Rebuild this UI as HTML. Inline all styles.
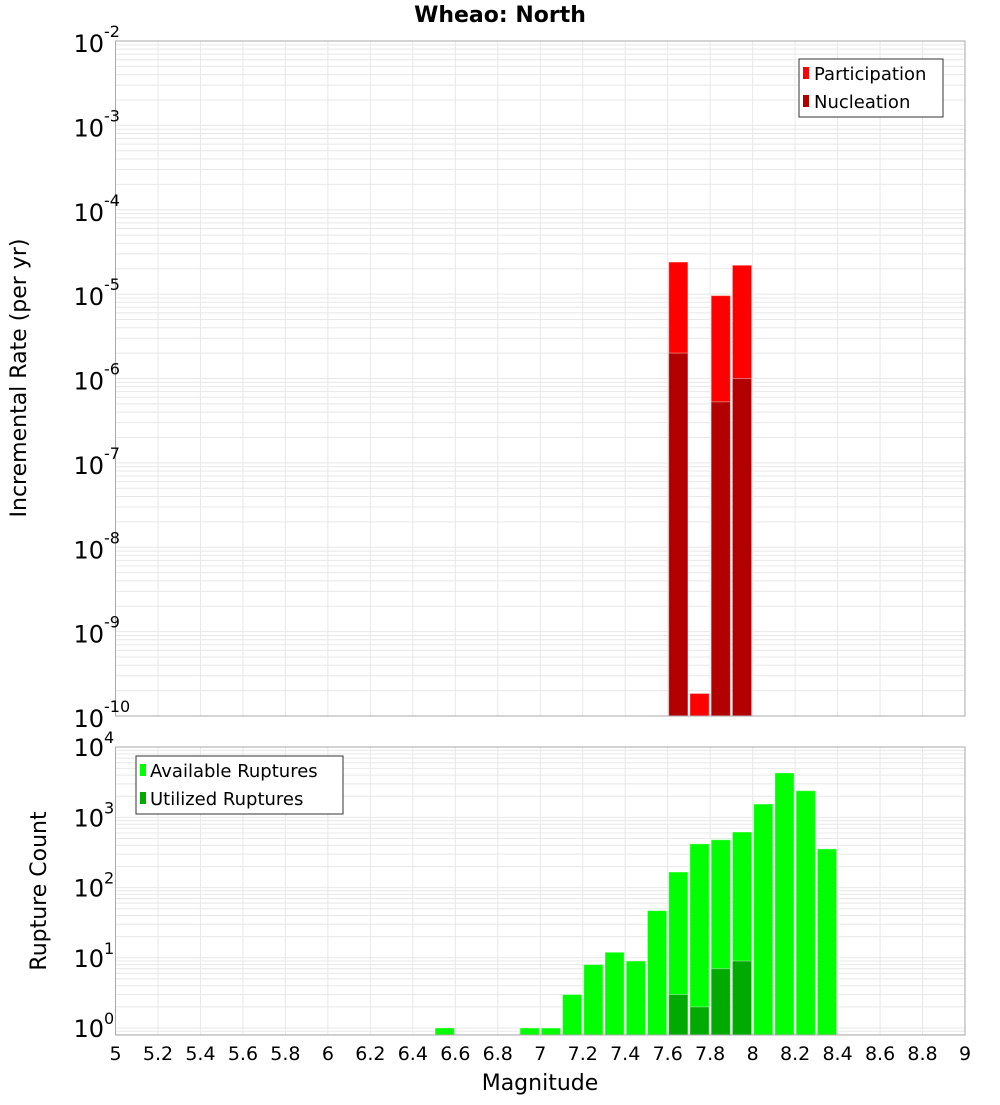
<!DOCTYPE html>
<html><head><meta charset="utf-8"><style>
body{margin:0;background:#fff;}
svg text{font-family:"DejaVu Sans","Liberation Sans",sans-serif;}
</style></head><body>
<svg id="c" width="1000" height="1100" xmlns="http://www.w3.org/2000/svg">
<text x="500" y="22" text-anchor="middle" font-size="22" font-weight="bold">Wheao: North</text>
<g id="top"></g>
<g id="bot"></g>
<text transform="translate(26,378) rotate(-90)" text-anchor="middle" font-size="22">Incremental Rate (per yr)</text>
<text transform="translate(46,891) rotate(-90)" text-anchor="middle" font-size="22">Rupture Count</text>
<text x="540" y="1090" text-anchor="middle" font-size="22">Magnitude</text>
<g>
<rect x="799" y="59" width="144" height="58" fill="#fff" stroke="#333"/>
<rect x="803" y="67" width="6" height="12" fill="#ff0000"/><text x="814" y="80" font-size="18">Participation</text>
<rect x="803" y="95" width="6" height="12" fill="#b20000"/><text x="814" y="108" font-size="18">Nucleation</text>
</g>
<g>
<rect x="136" y="756" width="207" height="58" fill="#fff" stroke="#333"/>
<rect x="140" y="764" width="6" height="12" fill="#00ff00"/><text x="150" y="777" font-size="18">Available Ruptures</text>
<rect x="140" y="792" width="6" height="12" fill="#00aa00"/><text x="150" y="805" font-size="18">Utilized Ruptures</text>
</g>
</svg>
<script>
const magBins=[7.65,7.75,7.85,7.95];
const participation=[2.4e-5,1.85e-10,9.6e-6,2.2e-5];
const nucleation=[2.0e-6,0,5.3e-7,1.0e-6];
const countBins=[6.55,6.95,7.05,7.15,7.25,7.35,7.45,7.55,7.65,7.75,7.85,7.95,8.05,8.15,8.25,8.35];
const available=[1,1,1,3,8,12,9,47,167,420,480,620,1550,4300,2400,356];
const utilBins=[7.65,7.75,7.85,7.95];
const utilized=[3,2,7,9];
const xTicks=[5,5.2,5.4,5.6,5.8,6,6.2,6.4,6.6,6.8,7,7.2,7.4,7.6,7.8,8,8.2,8.4,8.6,8.8,9];
const ns="http://www.w3.org/2000/svg";
const L=115.5,R=965;
const X=v=>L+(v-5)*(R-L)/4;
function mk(p,t,a){const e=document.createElementNS(ns,t);for(const k in a)e.setAttribute(k,a[k]);p.appendChild(e);return e;}
function panel(g,top,bot,lmin,lmax,yfn){
  mk(g,'rect',{x:L,y:top,width:R-L,height:bot-top,fill:'#fff'});
  for(let d=Math.floor(lmin);d<lmax;d++)for(let m=1;m<10;m++){const v=Math.log10(m)+d;if(v<lmin||v>lmax)continue;const y=yfn(Math.pow(10,v));
    const l=mk(g,'line',{x1:L,x2:R,y1:y,y2:y,stroke:'#e8e8e8','stroke-width':1});
    
    }
  xTicks.forEach(t=>{const l=mk(g,'line',{x1:X(t),x2:X(t),y1:top,y2:bot,stroke:'#e8e8e8'});
    
    });
}
function bar(g,c,v,yfn,bot,fill,name){const y=yfn(v);const r=mk(g,'rect',{x:X(c-0.05)+1,y:y,width:X(c+0.05)-X(c-0.05)-2,height:bot-y,fill:fill,stroke:'#fff','stroke-opacity':0.4});
  
  }
function frame(g,top,bot){mk(g,'rect',{x:L,y:top,width:R-L,height:bot-top,fill:'none',stroke:'#aaa'});}
// top
const T=document.getElementById('top');const tTop=41,tBot=716;
const Yt=v=>tTop+(-2-Math.log10(v))*(tBot-tTop)/8;
panel(T,tTop,tBot,-10,-2,Yt);
magBins.forEach((c,i)=>bar(T,c,participation[i],Yt,tBot,'#ff0000','participation-bar'));
magBins.forEach((c,i)=>{if(nucleation[i]>0)bar(T,c,nucleation[i],Yt,tBot,'#b20000','nucleation-bar');});
frame(T,tTop,tBot);
for(let e=-2;e>=-10;e--){const y=Yt(Math.pow(10,e));const t=mk(T,'text',{x:104,y:y+11,'text-anchor':'end','font-size':24});t.textContent='10';
  
  
  const s=mk(T,'text',{x:104,y:y-4,'font-size':16});s.textContent=String(e);}
// bottom
const B=document.getElementById('bot');const bTop=747,bBot=1035;
const Yb=v=>1028-Math.log10(v)*70.2;
panel(B,bTop,bBot,-0.1,4,Yb);
countBins.forEach((c,i)=>bar(B,c,available[i],Yb,bBot,'#00ff00','available-bar'));
utilBins.forEach((c,i)=>bar(B,c,utilized[i],Yb,bBot,'#00aa00','utilized-bar'));
frame(B,bTop,bBot);
for(let e=0;e<=4;e++){const y=Yb(Math.pow(10,e));const t=mk(B,'text',{x:104,y:y+9,'text-anchor':'end','font-size':24});t.textContent='10';
  
  
  const s=mk(B,'text',{x:104,y:y-4,'font-size':16});s.textContent=String(e);}
xTicks.forEach(t=>{const tx=mk(B,'text',{x:X(t),y:1060,'text-anchor':'middle','font-size':19});tx.textContent=String(t);
  
  });
</script>
</body></html>
